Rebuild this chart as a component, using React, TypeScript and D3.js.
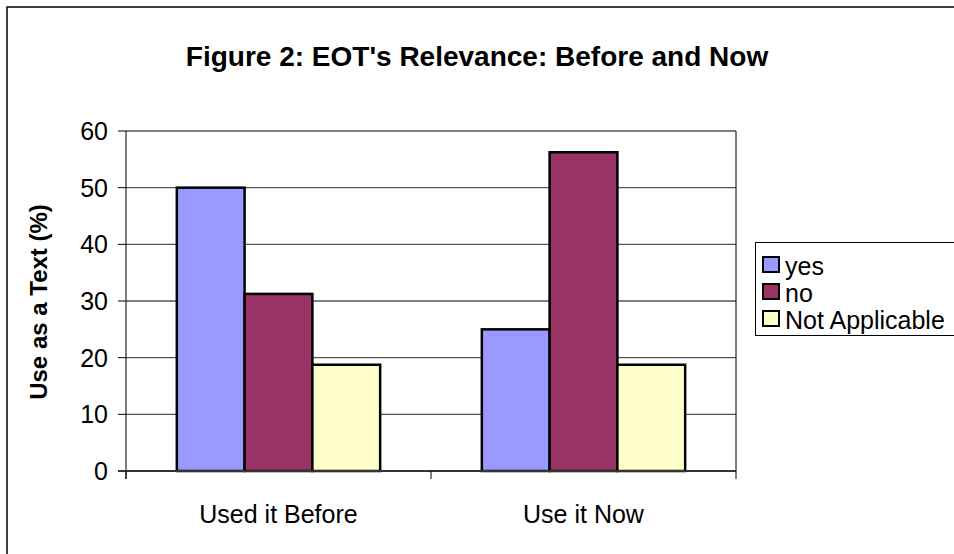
import React from "react";
import * as d3 from "d3";

const categories = ["Used it Before", "Use it Now"];
const seriesNames = ["yes", "no", "Not Applicable"];
const seriesColors = ["#9999FF", "#993366", "#FFFFCC"];
const yesValues = [50, 25];
const noValues = [31.25, 56.25];
const naValues = [18.75, 18.75];
const yTicks = [0, 10, 20, 30, 40, 50, 60];
const title = "Figure 2: EOT's Relevance: Before and Now";
const yLabel = "Use as a Text (%)";

const W = 954;
const H = 554;
const plot = { left: 126, right: 736, top: 131, bottom: 471 };
const font = "'Liberation Sans', Arial, sans-serif";

export default function App() {
  const series = [yesValues, noValues, naValues];
  const x0 = d3.scaleBand<string>().domain(categories).range([plot.left, plot.right]).paddingInner(0).paddingOuter(0);
  const x1 = d3
    .scaleBand<string>()
    .domain(seriesNames)
    .range([0, x0.bandwidth()])
    .paddingInner(0)
    .paddingOuter(0.75);
  const y = d3.scaleLinear().domain([0, 60]).range([plot.bottom, plot.top]);

  const xTickPositions = [plot.left, ...categories.map((c) => (x0(c) as number) + x0.bandwidth())];

  return (
    <svg
      width={W}
      height={H}
      style={{ position: "absolute", left: 0, top: 0, background: "#fff" }}
      fontFamily={font}
    >
      <rect x={0} y={0} width={W} height={H} fill="#fff" />
      <rect x={7} y={7} width={W + 20} height={H + 20} fill="none" stroke="#000" strokeWidth={1.5} />
      <text x={477} y={66} textAnchor="middle" fontSize={28} fontWeight="bold" fill="#000">
        {title}
      </text>

      {/* gridlines */}
      {yTicks.map((t) =>
        t === 0 ? null : (
          <line key={"g" + t} x1={plot.left} x2={plot.right} y1={y(t)} y2={y(t)} stroke="#555" strokeWidth={1.3} />
        )
      )}
      <line x1={plot.right} x2={plot.right} y1={plot.top} y2={plot.bottom} stroke="#000" strokeWidth={1} />

      {/* bars */}
      {categories.map((c, ci) =>
        seriesNames.map((s, si) => {
          const bx = (x0(c) as number) + (x1(s) as number);
          const v = series[si][ci];
          return (
            <rect
              key={c + s}
              x={bx}
              y={y(v)}
              width={x1.bandwidth()}
              height={y(0) - y(v)}
              fill={seriesColors[si]}
              stroke="#000"
              strokeWidth={2.5}
            />
          );
        })
      )}

      {/* y axis */}
      <line x1={plot.left} x2={plot.left} y1={plot.top} y2={plot.bottom + 8} stroke="#000" strokeWidth={1} />
      {yTicks.map((t) => (
        <g key={"t" + t}>
          <line x1={plot.left - 8} x2={plot.left} y1={y(t)} y2={y(t)} stroke="#000" strokeWidth={1} />
          <text x={108} y={y(t)} dy="0.36em" textAnchor="end" fontSize={25} fill="#000">
            {t}
          </text>
        </g>
      ))}
      {/* x axis */}
      <line x1={plot.left - 8} x2={plot.right} y1={plot.bottom} y2={plot.bottom} stroke="#333" strokeWidth={2} />
      {xTickPositions.map((px, i) => (
        <line key={"xt" + i} x1={px} x2={px} y1={plot.bottom} y2={plot.bottom + 8} stroke="#000" strokeWidth={1} />
      ))}
      {categories.map((c) => (
        <text key={c} x={(x0(c) as number) + x0.bandwidth() / 2} y={523} textAnchor="middle" fontSize={25} fill="#000">
          {c}
        </text>
      ))}

      <text
        transform={`translate(47, 302) rotate(-90)`}
        textAnchor="middle"
        fontSize={24}
        fontWeight="bold"
        fill="#000"
      >
        {yLabel}
      </text>

      {/* legend */}
      <rect x={755.5} y={242.5} width={240} height={93} fill="#fff" stroke="#000" strokeWidth={1} />
      {seriesNames.map((s, i) => (
        <g key={"l" + s} transform={`translate(763, ${265 + i * 27})`}>
          <rect x={0} y={-8} width={16} height={15} fill={seriesColors[i]} stroke="#000" strokeWidth={2} />
          <text x={22} y={0} dy="0.38em" fontSize={25} fill="#000">
            {s}
          </text>
        </g>
      ))}
    </svg>
  );
}
